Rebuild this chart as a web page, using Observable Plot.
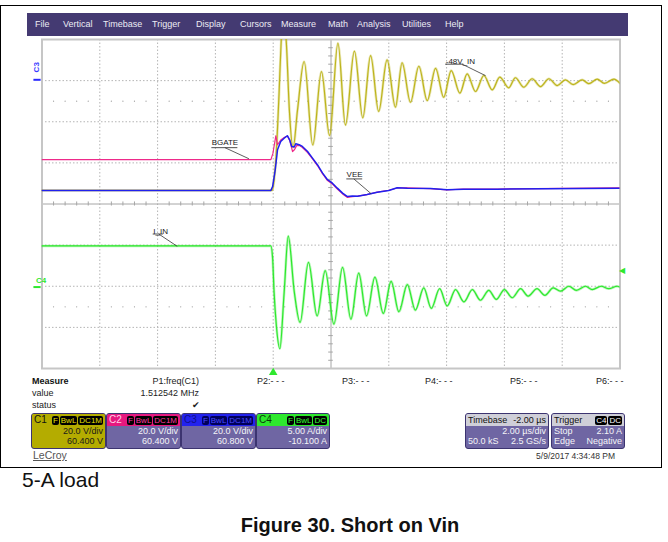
<!DOCTYPE html>
<html><head><meta charset="utf-8">
<script src="https://cdn.jsdelivr.net/npm/d3@7"></script>
<script src="https://cdn.jsdelivr.net/npm/@observablehq/plot@0.6"></script>
<style>
body{margin:0;background:#fff;font-family:Arial,"Liberation Sans",sans-serif;}
#page{position:relative;width:668px;height:542px;overflow:hidden;background:#fff;}
#outer{position:absolute;left:0;top:5px;width:660px;height:461px;border:1px solid #000;}
#plotwrap{position:absolute;left:0;top:0;}
#menu{position:absolute;left:27px;top:13px;width:601px;height:23px;background:#443a72;}
.mi{position:absolute;top:6px;color:#ececf4;font-size:9px;line-height:11px;}
.t{position:absolute;white-space:nowrap;font-size:9px;line-height:11px;color:#222;}
.box{position:absolute;top:413px;height:34px;border:1px solid #3c3470;border-radius:3px;overflow:hidden;background:#6f66a3;font-size:9px;color:#f4f4f8;}
.hdr{height:12px;line-height:12px;display:flex;justify-content:space-between;align-items:center;padding:0 2px;}
.tags b{display:inline-block;background:#000;border-radius:2px;padding:0 1px;margin-left:1px;font-weight:normal;font-size:8px;line-height:9px;}
.row{height:10px;line-height:10px;text-align:right;padding:0 2px;display:flex;justify-content:space-between;}
.row span:only-child{margin-left:auto;}
</style></head>
<body><div id="page">
<div id="outer"></div>
<div id="plotwrap"></div>
<div id="menu"></div>
</div>
<script>
// ---- Waveform data (time in µs, values in channel units) ----
// C1: -48V_IN (V)
const c1T = [-8, -0.04, 0.03, 0.11, 0.20, 0.27, 0.36, 0.46, 0.56, 0.69, 0.84, 1.07, 1.37, 1.67, 1.95, 2.24, 2.50, 2.81, 3.10, 3.37, 3.65, 3.94, 4.23, 4.46, 4.75, 5.04, 5.33, 5.62, 5.90, 6.16, 6.46, 6.71, 7.00, 7.29, 7.58, 7.84, 8.15, 8.38, 8.67, 8.96, 9.25, 9.54, 9.83, 10.11, 10.38, 10.69, 10.92, 11.21, 11.46, 11.79, 12.0];
const c1V = [-93.8, -93.8, -89.0, -74.4, -47.6, -23.3, -5.3, -23.3, -54.9, -72.9, -54.9, -31.1, -71.7, -36.0, -67.1, -22.2, -62.0, -26.1, -58.5, -28.2, -55.4, -30.3, -53.3, -31.7, -50.9, -33.4, -50.1, -34.4, -48.5, -35.5, -46.5, -37.1, -45.7, -37.9, -44.9, -38.7, -43.9, -39.0, -43.6, -39.5, -43.3, -39.5, -42.8, -40.0, -42.3, -40.0, -41.9, -39.7, -41.7, -39.7, -41.7];
// C2: BGATE (V)
const c2T = [-8, -0.08, -0.01, 0.09, 0.15, 0.26, 0.38, 0.49, 0.57, 0.67, 0.74, 0.81, 0.91, 1.01, 1.19, 1.36, 1.53, 1.71, 1.88, 2.05, 2.22, 2.40, 2.57, 2.74, 2.92, 3.25, 3.60, 4.00, 4.29, 4.64, 5.44, 6.02, 6.58, 7.75, 12.0];
const c2V = [-78.8, -78.8, -75.8, -67.2, -71.6, -69.3, -68.1, -67.3, -69.5, -74.9, -73.9, -72.0, -72.0, -72.9, -75.4, -78.5, -81.7, -85.8, -89.0, -90.7, -93.1, -95.5, -97.2, -96.8, -96.6, -95.8, -94.6, -93.7, -92.6, -92.6, -92.9, -93.5, -93.1, -93.1, -92.6];
// C3: VEE (V)
const c3T = [-8, -0.08, -0.02, 0.07, 0.15, 0.26, 0.38, 0.49, 0.57, 0.64, 0.73, 0.78, 0.90, 1.01, 1.19, 1.36, 1.53, 1.71, 1.88, 2.05, 2.22, 2.40, 2.57, 2.74, 2.92, 3.25, 3.60, 4.00, 4.29, 4.64, 5.44, 6.02, 6.58, 7.75, 12.0];
const c3V = [-94.2, -94.2, -92.3, -84.2, -74.4, -70.4, -68.8, -67.6, -69.6, -72.8, -73.1, -71.5, -72.0, -72.8, -75.3, -78.5, -81.7, -85.8, -89.0, -90.7, -93.1, -95.5, -97.2, -96.9, -97.0, -96.2, -95.1, -94.2, -92.9, -93.1, -93.3, -93.9, -93.6, -93.6, -93.1];
// C4: I_IN (A)
const c4T = [-8, -0.08, -0.02, 0.03, 0.11, 0.23, 0.38, 0.52, 0.73, 0.93, 1.22, 1.52, 1.80, 2.10, 2.40, 2.69, 2.96, 3.23, 3.52, 3.81, 4.08, 4.35, 4.64, 4.92, 5.21, 5.47, 5.76, 6.02, 6.31, 6.60, 6.89, 7.17, 7.46, 7.72, 8.00, 8.27, 8.56, 8.82, 9.13, 9.40, 9.69, 9.94, 10.23, 10.49, 10.81, 11.04, 11.35, 11.61, 11.90, 12.0];
const c4A = [15.0, 15.0, 13.5, 9.4, 5.3, 2.5, 9.4, 16.2, 9.4, 5.7, 13.0, 6.5, 12.0, 5.5, 12.4, 6.1, 11.7, 6.5, 11.2, 6.8, 10.7, 7.0, 10.3, 7.2, 9.9, 7.4, 9.8, 7.7, 9.7, 8.2, 9.7, 8.4, 9.6, 8.5, 9.7, 8.7, 9.8, 8.9, 9.8, 9.0, 9.9, 9.5, 10.1, 9.6, 10.1, 9.7, 10.1, 9.8, 10.1, 10.0];

// Channel settings (volts/div, offset) and trace labels
const chNames = ["C1", "C2", "C3", "C4"];
const chScale = [20, 20, 20, 5];
const chOffset = [60.4, 60.4, 60.8, -10.1];
const chUnit = ["V", "V", "V", "A"];
const traceLabels = ["-48V_IN", "BGATE", "VEE", "I_IN"];
const measureText = ["P1:freq(C1)", "1.512542 MHz"];
const paramSlots = ["P2:- - -", "P3:- - -", "P4:- - -", "P5:- - -", "P6:- - -"];
const menuItems = ["File","Vertical","Timebase","Trigger","Display","Cursors","Measure","Math","Analysis","Utilities","Help"];

// ---- layout / styling (not data) ----
const menuX = [35,63,103,152,196,240,281,328,357,402,445];
const chColor = ["#bdb41c", "#ee2a8a", "#2020ee", "#2ee82e"];
const haloOpacity = [0.35, 0, 0, 0.35];
const lineWidth = [1.2, 1.2, 1.5, 1.2];
const chGrid = [6, 6, 6, 2]; // grid centre (divisions) for each channel

const toDiv = (i, v) => chGrid[i] + (v + chOffset[i]) / chScale[i];
const series = [[c1T, c1V], [c2T, c2V], [c3T, c3V], [c4T, c4A]].map(([T, V]) => T.map((t, j) => ({t, v: V[j]})));

// annotation placement in plot coordinates (µs, divisions)
const labelPos = [
  {text: traceLabels[0], t: 5.97, d: 7.47, ux1: 5.95, ux2: 6.58, uy: 7.40, lx1: 6.54, ly1: 7.40, lx2: 7.35, ly2: 7.12},
  {text: traceLabels[1], t: -2.13, d: 5.49, ux1: -2.14, ux2: -1.24, uy: 5.37, lx1: -1.67, ly1: 5.37, lx2: -0.84, ly2: 5.10},
  {text: traceLabels[2], t: 2.54, d: 4.73, ux1: 2.53, ux2: 3.08, uy: 4.61, lx1: 2.79, ly1: 4.61, lx2: 3.39, ly2: 4.25},
  {text: traceLabels[3], t: -4.15, d: 3.34, ux1: -4.17, ux2: -3.82, uy: 3.27, lx1: -3.96, ly1: 3.27, lx2: -3.32, ly2: 2.97}
];

const minorY = d3.range(0, 8.001, 0.2).filter(v => Math.abs(v - Math.round(v)) > 1e-6);
const minorX = d3.range(-8, 12.001, 0.4).filter(v => Math.abs(v/2 - Math.round(v/2)) > 1e-6);
const gridCol = "#b4b4b4";

const traceMarks = [];
[0, 1, 2, 3].forEach(i => {
  const yAcc = d => toDiv(i, d.v);
  const curve = (i === 0 || i === 3) ? "monotone-x" : "linear";
  if (haloOpacity[i] > 0) traceMarks.push(Plot.line(series[i], {x: "t", y: yAcc, stroke: chColor[i], strokeOpacity: haloOpacity[i], strokeWidth: 2.6, curve, clip: true}));
  traceMarks.push(Plot.line(series[i], {x: "t", y: yAcc, stroke: chColor[i], strokeWidth: lineWidth[i], curve, clip: true}));
});

const plot = Plot.plot({
  width: 668, height: 380,
  marginLeft: 41.5, marginRight: 48.5, marginTop: 39, marginBottom: 12,
  style: {background: "transparent", overflow: "visible", fontFamily: "Arial, 'Liberation Sans', sans-serif"},
  x: {domain: [-8, 12], axis: null},
  y: {domain: [0, 8], axis: null},
  marks: [
    Plot.ruleX([-6, -4, -2, 0, 4, 6, 8, 10], {stroke: gridCol, strokeDasharray: "1.5,2"}),
    Plot.ruleY([1, 2, 3, 5, 6, 7], {stroke: gridCol, strokeDasharray: "1.5,2"}),
    Plot.dot(minorX, {x: d => d, y: 6.5, r: 0.6, fill: "#999", stroke: null}),
    Plot.dot(minorX, {x: d => d, y: 1.5, r: 0.6, fill: "#999", stroke: null}),
    Plot.ruleX([2], {stroke: "#a6a6a6"}),
    Plot.ruleY([4], {stroke: "#a6a6a6"}),
    Plot.ruleY(minorY, {x1: 1.92, x2: 2.08, stroke: "#a6a6a6"}),
    Plot.ruleX(minorX, {y1: 3.95, y2: 4.05, stroke: "#a6a6a6"}),
    Plot.frame({stroke: "#c6c6c6", strokeWidth: 2}),
    ...traceMarks,
    Plot.link(labelPos, {x1: "ux1", x2: "ux2", y1: "uy", y2: "uy", stroke: "#222", strokeWidth: 0.8}),
    Plot.link(labelPos, {x1: "lx1", y1: "ly1", x2: "lx2", y2: "ly2", stroke: "#333", strokeWidth: 0.8}),
    Plot.text(labelPos, {x: "t", y: "d", text: "text", textAnchor: "start", fontSize: 8, fill: "#222"}),
    // channel indicators on the left
    Plot.text([chNames[2]], {frameAnchor: "left", y: 7.2, dx: -6, rotate: -90, fill: "#3a3aff", fontSize: 8, fontWeight: "bold"}),
    Plot.ruleY([7.02], {x1: -8.28, x2: -8.03, stroke: "#2a2aff", strokeWidth: 2}),
    Plot.text([chNames[3]], {frameAnchor: "left", y: 2.14, dx: -6, fill: "#2ee82e", fontSize: 8, fontWeight: "bold"}),
    Plot.ruleY([1.98], {x1: -8.28, x2: -8.03, stroke: "#2ee82e", strokeWidth: 2}),
    // trigger markers
    Plot.dot([0], {x: d => d, y: -0.1, symbol: "triangle", r: 3.2, fill: "#2ee82e", stroke: null}),
    Plot.text(["\u25C0"], {frameAnchor: "right", y: 2.38, dx: 5, fill: "#2ee82e", fontSize: 8})
  ]
});
document.getElementById("plotwrap").appendChild(plot);

// ---- menu ----
const menu = document.getElementById("menu");
menuItems.forEach((m, i) => {
  const s = document.createElement("div");
  s.className = "mi"; s.style.left = (menuX[i] - 27) + "px"; s.textContent = m;
  menu.appendChild(s);
});

// ---- measure area and descriptor boxes ----
const page = document.getElementById("page");
function add(html) { page.insertAdjacentHTML("beforeend", html); }
add(`<div class="t" style="left:32px;top:376px;font-weight:bold;color:#111">Measure</div>`);
add(`<div class="t" style="left:32px;top:388px">value</div>`);
add(`<div class="t" style="left:32px;top:400px">status</div>`);
add(`<div class="t" style="right:469px;top:376px">${measureText[0]}</div>`);
add(`<div class="t" style="right:469px;top:388px">${measureText[1]}</div>`);
add(`<div class="t" style="left:192px;top:400px">\u2714</div>`);
[257, 342, 425, 510, 596].forEach((x, i) => add(`<div class="t" style="left:${x}px;top:376px">${paramSlots[i]}</div>`));

function tags(list, col, bg) { return `<span class="tags">${list.map(t => `<b style="color:${col};background:${bg || '#000'}">${t}</b>`).join("")}</span>`; }
function chBox(i, left, width, hdrBg, nameCol, tagList, tagCol, tagBg, bodyBg, bodyCol) {
  const vdiv = (i === 3 ? chScale[i].toFixed(2) : chScale[i].toFixed(1)) + " " + chUnit[i] + "/div";
  const off = chOffset[i].toFixed(3) + " " + chUnit[i];
  add(`<div class="box" style="left:${left}px;width:${width}px;background:${bodyBg};color:${bodyCol}">
    <div class="hdr" style="background:${hdrBg}"><span style="color:${nameCol};font-size:10px">${chNames[i]}</span>${tags(tagList, tagCol, tagBg)}</div>
    <div class="row"><span>${vdiv}</span></div>
    <div class="row"><span>${off}</span></div></div>`);
}
chBox(0, 31, 73, "#b4ac00", "#111", ["F", "BwL", "DC1M"], "#e8e000", "#000", "#b4ac00", "#1a1a1a");
chBox(1, 106, 73, "#e6197f", "#ffd0e6", ["F", "BwL", "DC1M"], "#ff3aa0", "#000", "#6f66a3", "#f4f4f8");
chBox(2, 181, 73, "#2222ee", "#10108a", ["F", "BwL", "DC1M"], "#4a4aff", "#00005a", "#6f66a3", "#f4f4f8");
chBox(3, 256, 72, "#2ee82e", "#0a3a0a", ["F", "BwL", "DC"], "#33ff33", "#000", "#6f66a3", "#f4f4f8");

add(`<div class="box" style="left:465px;width:82px">
  <div class="hdr" style="background:#cfcfd8;color:#111"><span>Timebase</span><span>-2.00 \u00b5s</span></div>
  <div class="row"><span>2.00 \u00b5s/div</span></div>
  <div class="row"><span>50.0 kS</span><span>2.5 GS/s</span></div></div>`);
add(`<div class="box" style="left:551px;width:72px">
  <div class="hdr" style="background:#cfcfd8;color:#111"><span>Trigger</span>${tags(["C4", "DC"], "#fff", "#000")}</div>
  <div class="row"><span>Stop</span><span>2.10 A</span></div>
  <div class="row"><span>Edge</span><span>Negative</span></div></div>`);

add(`<div class="t" style="right:53px;top:451px;font-size:8.5px;color:#333">5/9/2017 4:34:48 PM</div>`);
add(`<div class="t" style="left:33px;top:449px;font-size:10.5px;line-height:12px;color:#555;text-decoration:underline">LeCroy</div>`);
add(`<div class="t" style="left:22px;top:468px;font-size:21px;line-height:24px;color:#111">5-A load</div>`);
add(`<div class="t" style="left:0;width:700px;text-align:center;top:513px;font-size:20px;line-height:24px;font-weight:bold;color:#111">Figure 30. Short on Vin</div>`);
</script>
</body></html>
